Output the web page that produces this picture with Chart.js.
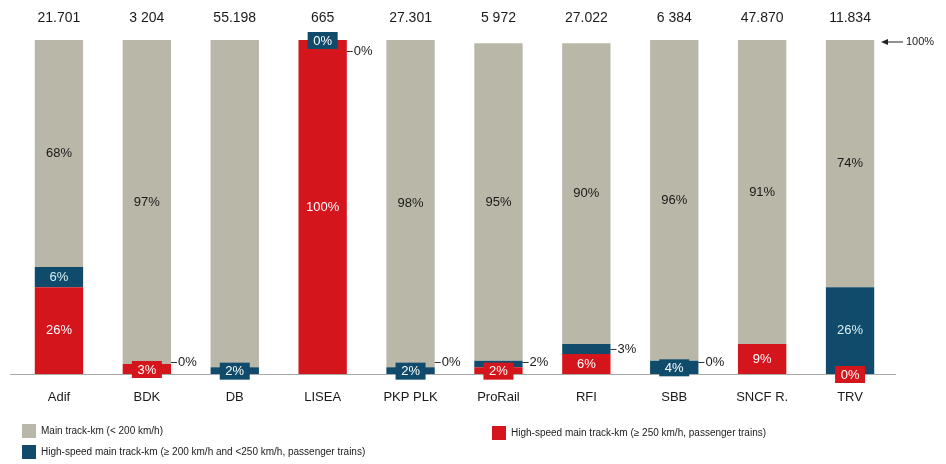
<!DOCTYPE html>
<html>
<head>
<meta charset="utf-8">
<script src="https://cdn.jsdelivr.net/npm/chart.js@4/dist/chart.umd.min.js"></script>
<style>
  body { margin: 0; background: #fff; font-family: "Liberation Sans", Arial, sans-serif; }
  #wrap { position: relative; width: 946px; height: 464px; }
  #chart { position: absolute; left: 0; top: 0; }
  .leg { position: absolute; font-size: 10px; color: #222; line-height: 14px; white-space: nowrap; }
  .leg span { display: inline-block; width: 14px; height: 14px; vertical-align: middle; margin-right: 5px; }
</style>
</head>
<body>
<div id="wrap">
  <canvas id="chart" width="946" height="464"></canvas>
  <div class="leg" style="left:22px; top:424px;"><span style="background:#b9b7a8"></span>Main track-km (&lt; 200 km/h)</div>
  <div class="leg" style="left:492px; top:426px;"><span style="background:#d4161c"></span>High-speed main track-km (≥ 250 km/h, passenger trains)</div>
  <div class="leg" style="left:22px; top:445px;"><span style="background:#104b6c"></span>High-speed main track-km (≥ 200 km/h and &lt;250 km/h, passenger trains)</div>
</div>
<script>
// managers and their network length (track-km)
const categories = ['Adif', 'BDK', 'DB', 'LISEA', 'PKP PLK', 'ProRail', 'RFI', 'SBB', 'SNCF R.', 'TRV'];
const totalKm = ['21.701', '3 204', '55.198', '665', '27.301', '5 972', '27.022', '6 384', '47.870', '11.834'];

// shares in %
const hs250Share = [26, 3, 0, 100, 0, 2, 6, 0, 9, 0];
const hs200Share = [6, 0, 2, 0, 2, 2, 3, 4, 0, 26];
const mainShare = [68, 97, 98, 0, 98, 95, 90, 96, 91, 74];

// how each share label is shown: in = inside, box = tag, side = to the right, '' = none
const hs250Label = ['in', 'box', '', 'in', 'side', 'box', 'in', 'side', 'in', 'box'];
const hs200Label = ['in', 'side', 'box', 'box', 'box', 'side', 'side', 'box', '', 'in'];
const mainLabel = ['in', 'in', '', 'side', 'in', 'in', 'in', 'in', 'in', 'in'];

const RED = '#d4161c', BLUE = '#104b6c', GREY = '#b9b7a8';
const FONT = '"Liberation Sans", Arial, sans-serif';

const labelPlugin = {
  id: 'labels',
  afterDatasetsDraw(chart) {
    const ctx = chart.ctx;
    const area = chart.chartArea;
    const xs = chart.scales.x;

    // baseline
    ctx.save();
    ctx.strokeStyle = '#a9a9a9';
    ctx.lineWidth = 1;
    ctx.beginPath();
    ctx.moveTo(10, area.bottom + 0.5);
    ctx.lineTo(area.right + 2, area.bottom + 0.5);
    ctx.stroke();

    // totals and category names
    ctx.fillStyle = '#1a1a1a';
    ctx.textAlign = 'center';
    ctx.textBaseline = 'middle';
    categories.forEach((c, i) => {
      const x = xs.getPixelForValue(i);
      ctx.font = '14px ' + FONT;
      ctx.fillText(totalKm[i], x, 18);
      ctx.font = '13px ' + FONT;
      ctx.fillText(c, x, 397);
    });

    // 100% marker
    ctx.strokeStyle = '#222';
    ctx.fillStyle = '#222';
    ctx.beginPath();
    ctx.moveTo(885, area.top + 2);
    ctx.lineTo(903, area.top + 2);
    ctx.stroke();
    ctx.beginPath();
    ctx.moveTo(881, area.top + 2);
    ctx.lineTo(888, area.top - 1);
    ctx.lineTo(888, area.top + 5);
    ctx.closePath();
    ctx.fill();
    ctx.font = '11px ' + FONT;
    ctx.textAlign = 'left';
    ctx.fillText('100%', 906, area.top + 2);

    const modes = [hs250Label, hs200Label, mainLabel];
    const inColor = ['#ffffff', '#d8eef0', '#1a1a1a'];
    chart.data.datasets.forEach((ds, d) => {
      const meta = chart.getDatasetMeta(d);
      meta.data.forEach((bar, i) => {
        const mode = modes[d][i];
        if (!mode) return;
        const txt = ds.data[i] + '%';
        const cy = (bar.y + bar.base) / 2;
        const half = bar.width / 2;
        ctx.font = '13px ' + FONT;
        if (mode === 'in') {
          ctx.textAlign = 'center';
          ctx.fillStyle = inColor[d];
          ctx.fillText(txt, bar.x, cy);
        } else if (mode === 'box') {
          ctx.fillStyle = ds.backgroundColor;
          ctx.fillRect(bar.x - 15, cy - 8, 30, 17);
          ctx.textAlign = 'center';
          ctx.fillStyle = '#ffffff';
          ctx.fillText(txt, bar.x, cy + 1);
        } else if (mode === 'side') {
          const y = Math.min(Math.max(cy, area.top + 11), area.bottom - 12);
          ctx.strokeStyle = '#333';
          ctx.beginPath();
          ctx.moveTo(bar.x + half, y + 0.5);
          ctx.lineTo(bar.x + half + 6, y + 0.5);
          ctx.stroke();
          ctx.textAlign = 'left';
          ctx.fillStyle = '#1a1a1a';
          ctx.fillText(txt, bar.x + half + 7, y);
        }
      });
    });
    ctx.restore();
  }
};

new Chart(document.getElementById('chart'), {
  type: 'bar',
  data: {
    labels: categories,
    datasets: [
      { label: 'High-speed ≥ 250 km/h', data: hs250Share, backgroundColor: RED },
      { label: 'High-speed ≥ 200 and < 250 km/h', data: hs200Share, backgroundColor: BLUE },
      { label: 'Main < 200 km/h', data: mainShare, backgroundColor: GREY }
    ]
  },
  options: {
    responsive: false,
    animation: false,
    layout: { padding: { left: 15, right: 52, top: 40, bottom: 90 } },
    datasets: { bar: { barPercentage: 0.55, categoryPercentage: 1, borderWidth: 0 } },
    scales: {
      x: { stacked: true, display: false },
      y: { stacked: true, display: false, min: 0, max: 100 }
    },
    plugins: { legend: { display: false }, tooltip: { enabled: false } }
  },
  plugins: [labelPlugin]
});
</script>
</body>
</html>
